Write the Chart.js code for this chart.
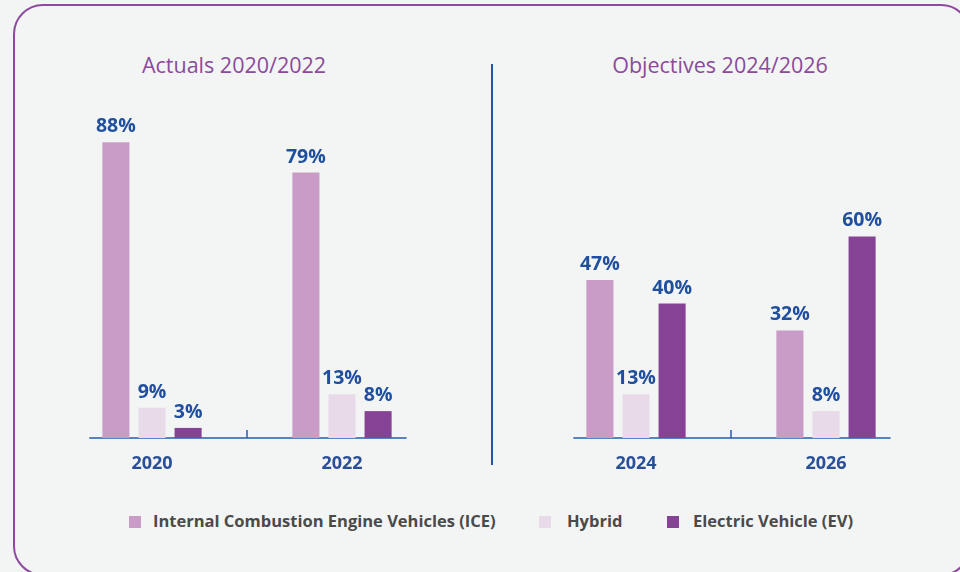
<!DOCTYPE html>
<html>
<head>
<meta charset="utf-8">
<script src="https://cdn.jsdelivr.net/npm/chart.js@4"></script>
<style>
  html, body { margin: 0; padding: 0; }
  body { width: 960px; height: 572px; background: #f3f5f4; position: relative; overflow: hidden; font-family: "Open Sans", sans-serif; }
  .frame { position: absolute; left: 13px; top: 4px; width: 958px; height: 572px; box-sizing: border-box; border: 2px solid #8d4a9f; border-radius: 30px; }
  .panel { position: absolute; top: 0; height: 478px; }
  .heading { position: absolute; top: 50px; font-size: 21.5px; color: #8b4a9b; white-space: nowrap; transform: translateX(-50%); }
  .divider { position: absolute; left: 491px; top: 64px; width: 2px; height: 401px; background: #2255aa; }
  .legend { position: absolute; top: 509px; left: 0; width: 960px; font-size: 16.5px; font-weight: 700; color: #4a4a4a; }
  .legend span { position: absolute; white-space: nowrap; }
  .legend i { position: absolute; width: 12px; height: 12px; top: 7px; }
</style>
</head>
<body>
<div class="frame"></div>
<div class="heading" style="left:234px">Actuals 2020/2022</div>
<div class="heading" style="left:720px">Objectives 2024/2026</div>
<div class="divider"></div>
<div class="panel" style="left:0;width:492px"><canvas id="actualsChart"></canvas></div>
<div class="panel" style="left:492px;width:468px"><canvas id="objectivesChart"></canvas></div>
<div class="legend" id="legend"></div>

<script>
// Share of vehicles by engine type (%)
const actualYears = ['2020', '2022'];
const objectiveYears = ['2024', '2026'];

const iceActual = [88, 79];
const hybridActual = [9, 13];
const evActual = [3, 8];

const iceObjective = [47, 32];
const hybridObjective = [13, 8];
const evObjective = [40, 60];

const seriesNames = ['Internal Combustion Engine Vehicles (ICE)', 'Hybrid', 'Electric Vehicle (EV)'];
const seriesColors = ['#c89cc6', '#e9dae9', '#864294'];

const blue = '#2a5caf';

// Percent labels above each bar
const valueLabels = {
    id: 'valueLabels',
    afterDatasetsDraw(chart) {
        const ctx = chart.ctx;
        ctx.save();
        ctx.font = 'bold 19.5px "Open Sans", sans-serif';
        ctx.fillStyle = '#1f4f9e';
        ctx.textAlign = 'center';
        ctx.textBaseline = 'alphabetic';
        chart.data.datasets.forEach((ds, i) => {
            chart.getDatasetMeta(i).data.forEach((bar, j) => {
                ctx.fillText(ds.data[j] + '%', bar.x, bar.y - 10);
            });
        });
        ctx.restore();
    }
};

// Short baseline with a separator tick between the two years
const baseline = {
    id: 'baseline',
    beforeDatasetsDraw(chart) {
        const x = chart.scales.x;
        const y0 = chart.scales.y.getPixelForValue(0);
        const p0 = x.getPixelForValue(0);
        const step = x.getPixelForValue(1) - p0;
        const ctx = chart.ctx;
        ctx.save();
        ctx.strokeStyle = blue;
        ctx.lineWidth = 1.5;
        ctx.beginPath();
        ctx.moveTo(p0 - step * 0.33, y0);
        ctx.lineTo(p0 + step * 1.34, y0);
        ctx.moveTo(p0 + step * 0.5, y0);
        ctx.lineTo(p0 + step * 0.5, y0 - 8);
        ctx.stroke();
        ctx.restore();
    }
};

function makeChart(id, labels, ice, hybrid, ev, padLeft, padRight) {
    const ctx = document.getElementById(id).getContext('2d');
    return new Chart(ctx, {
        type: 'bar',
        data: {
            labels: labels,
            datasets: [ice, hybrid, ev].map((d, i) => ({
                label: seriesNames[i],
                data: d,
                backgroundColor: seriesColors[i],
                borderWidth: 0,
                categoryPercentage: 0.57,
                barPercentage: 0.75
            }))
        },
        options: {
            responsive: true,
            maintainAspectRatio: false,
            animation: false,
            layout: {
                padding: { top: 102, left: padLeft, right: padRight, bottom: 0 }
            },
            plugins: {
                legend: { display: false },
                tooltip: { enabled: false }
            },
            scales: {
                x: {
                    offset: true,
                    grid: { display: false, drawTicks: false },
                    border: { display: false },
                    ticks: {
                        color: '#2a4f9a',
                        font: { family: '"Open Sans", sans-serif', size: 18, weight: 'bold' },
                        padding: 15
                    },
                    afterFit: s => { s.height = 40; }
                },
                y: {
                    display: false,
                    min: 0,
                    max: 100
                }
            }
        },
        plugins: [valueLabels, baseline]
    });
}

makeChart('actualsChart', actualYears, iceActual, hybridActual, evActual, 57, 55);
makeChart('objectivesChart', objectiveYears, iceObjective, hybridObjective, evObjective, 49, 39);

// Shared legend under both panels
const legendPos = [[129, 153], [539, 567], [667, 693]];
document.getElementById('legend').innerHTML = seriesNames.map((name, i) => `
    <i style="left:${legendPos[i][0]}px;background:${seriesColors[i]}"></i>
    <span style="left:${legendPos[i][1]}px">${name}</span>
`).join('');
</script>
</body>
</html>
